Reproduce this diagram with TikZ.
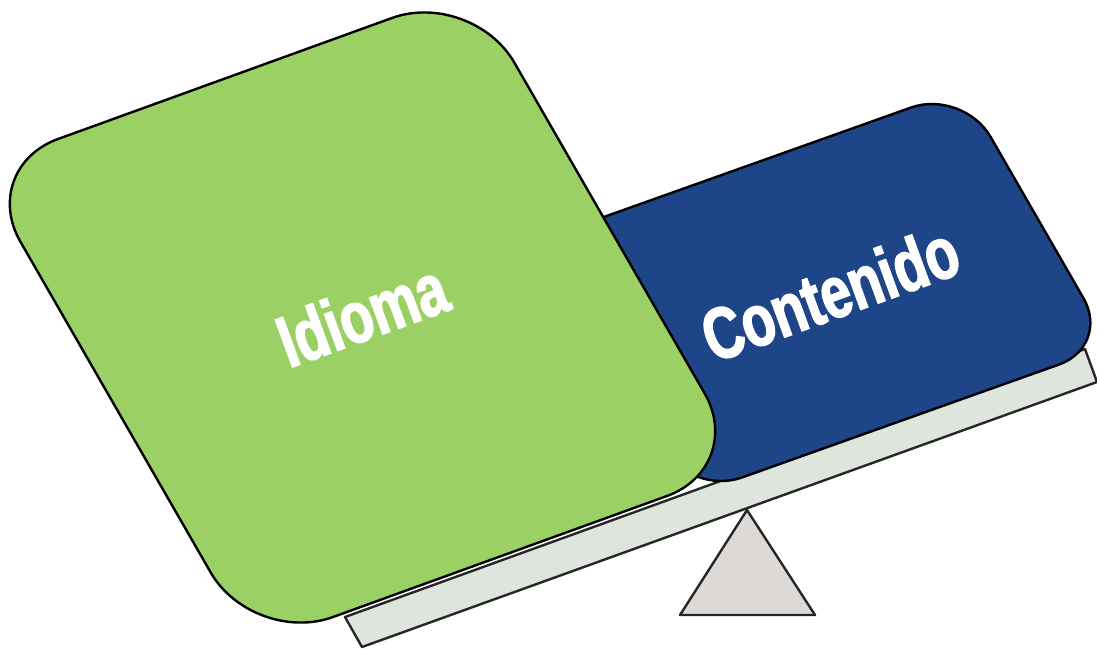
\documentclass[tikz,border=0pt]{standalone}
\usepackage{fontspec}
\usetikzlibrary{calc}
\newfontfamily\labelfont[FakeStretch=0.74,FakeBold=2]{Liberation Sans}
\definecolor{beamfill}{RGB}{222,229,221}
\definecolor{fulcrumfill}{RGB}{221,217,215}
\definecolor{greenfill}{RGB}{155,208,101}
\definecolor{bluefill}{RGB}{30,69,135}
\tikzset{
  outline/.style={draw=black, line width=2.4pt, line join=round},
  lbl/.style={text=white, font=\labelfont\bfseries\fontsize{73}{85}\selectfont, inner sep=0pt, rotate=20}
}
\begin{document}
\begin{tikzpicture}[x=1pt,y=-1pt]
\useasboundingbox (0,0) rectangle (1097,648);
% beam
\draw[outline, draw=black!85, fill=beamfill] (345,617) -- (1085,349) -- (1097,382) -- (362,647) -- cycle;
% fulcrum
\draw[outline, draw=black!85, fill=fulcrumfill] (747,510) -- (815,615) -- (680,615) -- cycle;
% blue block
\draw[outline, fill=bluefill, rounded corners=55pt]
  ($(542,239)!0.5!(963,89)$) -- (963,89) -- (1111,346) -- (690,496) -- (542,239) -- cycle;
% green block
\draw[outline, fill=greenfill, rounded corners=85pt]
  ($(-22,168)!0.5!(472,-11)$) -- (472,-11) -- (747,467) -- (253,646) -- (-22,168) -- cycle;
\node[lbl] (idioma) at (362,314) {Idioma};
\node[lbl] (contenido) at (830,293) {Contenido};
\end{tikzpicture}
\end{document}
